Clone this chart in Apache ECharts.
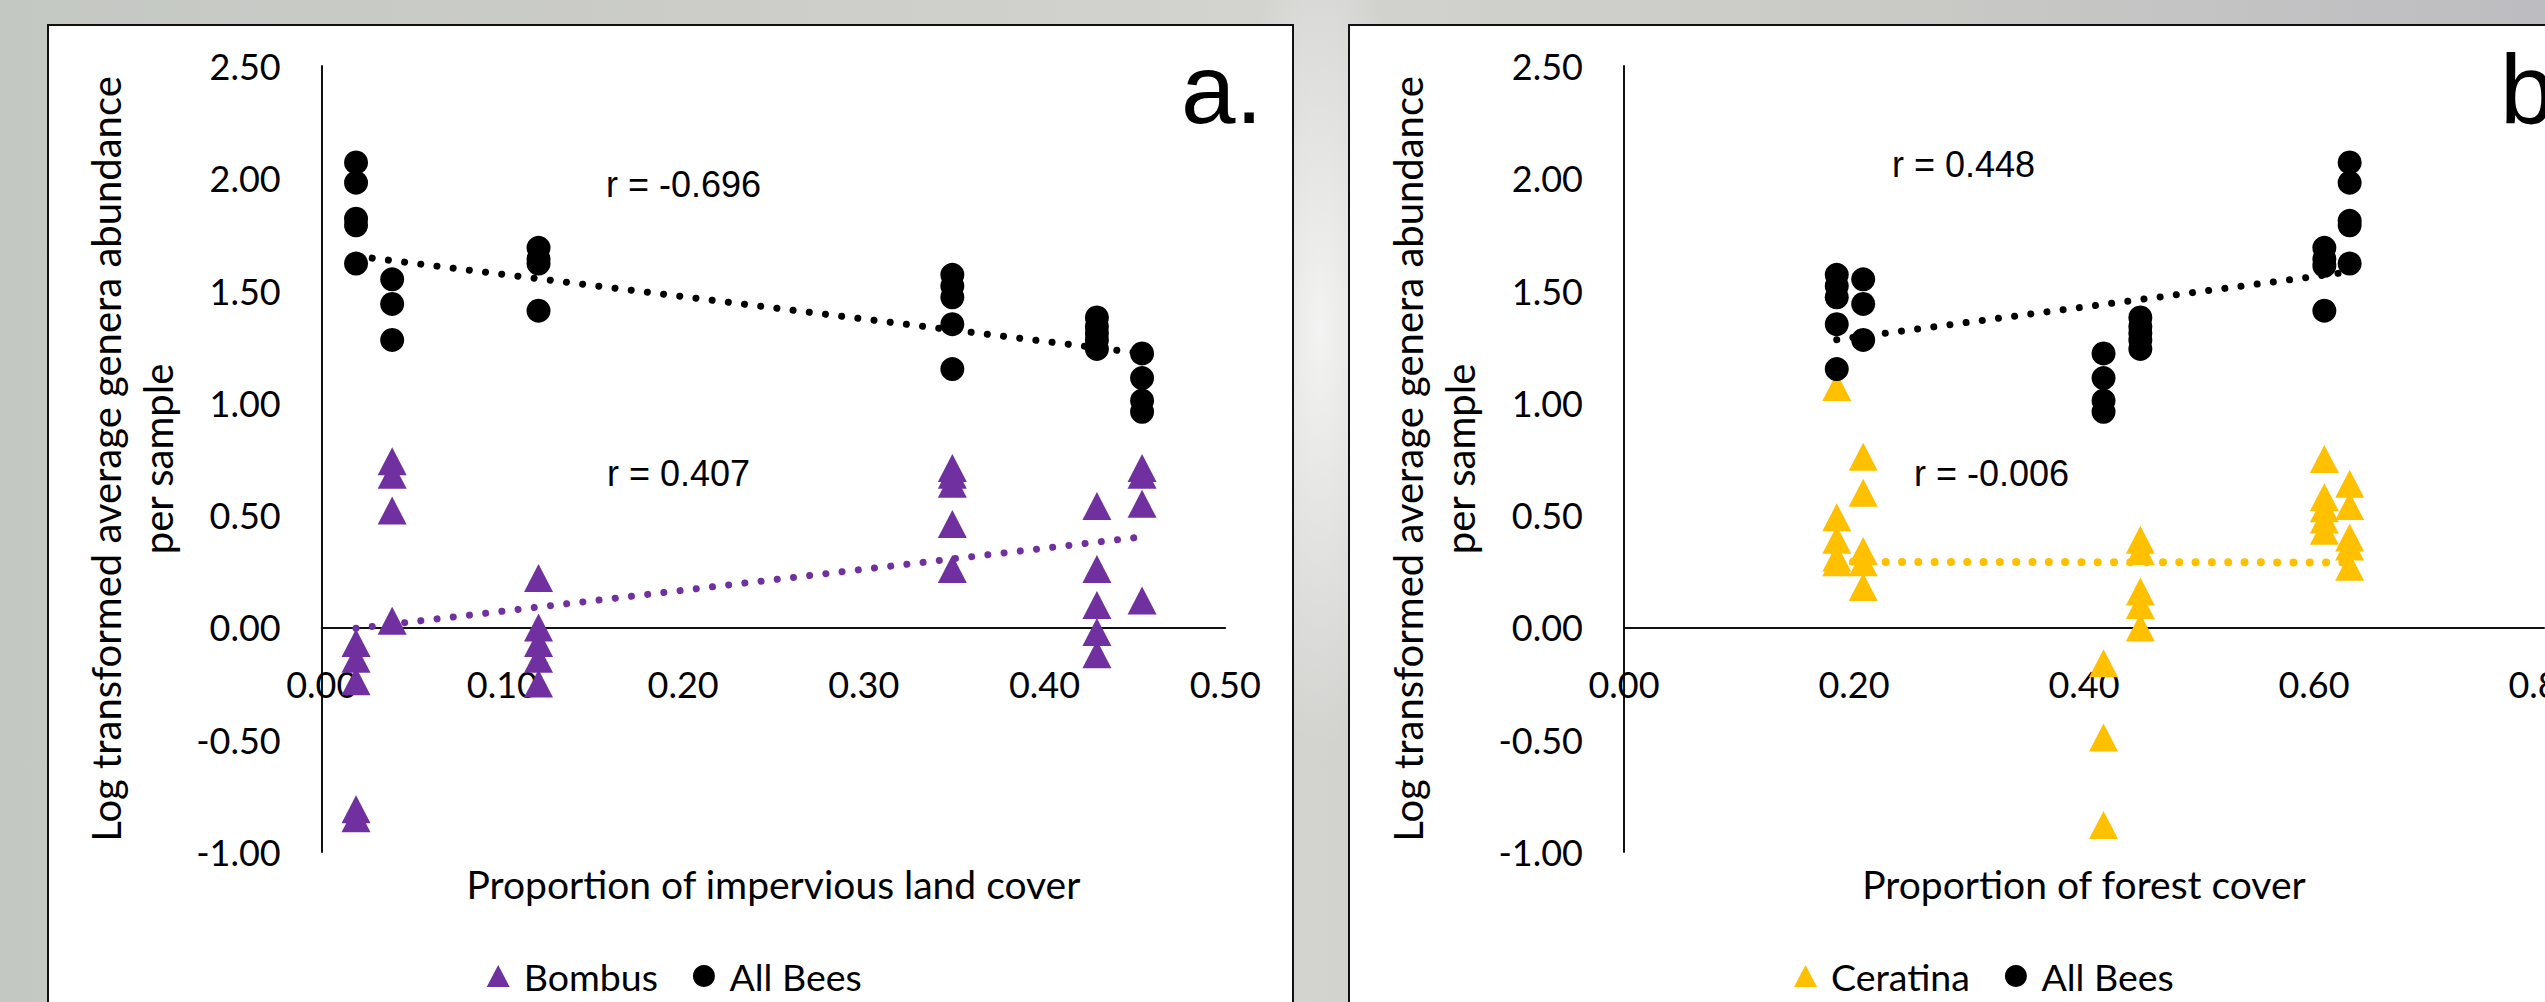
<!DOCTYPE html>
<html>
<head>
<meta charset="utf-8">
<script src="https://cdn.jsdelivr.net/npm/echarts@6/dist/echarts.min.js"></script>
<style>
  html, body { margin: 0; padding: 0; }
  body {
    width: 2545px; height: 1002px; overflow: hidden; position: relative;
    background:
      radial-gradient(ellipse 90px 420px at 1320px 330px, rgba(245,245,245,0.95), rgba(235,235,235,0) 100%),
      linear-gradient(90deg, #c4c8c3 0%, #cbccc8 25%, #d3d3d0 50%, #c9c9c6 75%, #bdbdc1 100%);
  }
  .frame { position: absolute; background: #fff; border: 2px solid #111; box-sizing: border-box; }
  #chart { position: absolute; left: 0; top: 0; width: 2545px; height: 1002px; }
</style>
</head>
<body>
<div class="frame" style="left:47px; top:24px; width:1247px; height:1000px;"></div>
<div class="frame" style="left:1348px; top:24px; width:1250px; height:1000px;"></div>
<div id="chart"></div>
<script>
// ---------- Data ----------
// Panel a: proportion of impervious land cover
const allBeesA = [
  [0.019, 2.07], [0.019, 1.98], [0.019, 1.82], [0.019, 1.79], [0.019, 1.62],
  [0.039, 1.55], [0.039, 1.44], [0.039, 1.28],
  [0.120, 1.69], [0.120, 1.64], [0.120, 1.62], [0.120, 1.41],
  [0.349, 1.57], [0.349, 1.52], [0.349, 1.47], [0.349, 1.35], [0.349, 1.15],
  [0.429, 1.38], [0.429, 1.34], [0.429, 1.31], [0.429, 1.28], [0.429, 1.24],
  [0.454, 1.22], [0.454, 1.11], [0.454, 1.01], [0.454, 0.96]
];
const bombusA = [
  [0.019, -0.07], [0.019, -0.14], [0.019, -0.24], [0.019, -0.81], [0.019, -0.85],
  [0.039, 0.74], [0.039, 0.68], [0.039, 0.52], [0.039, 0.03],
  [0.120, 0.22], [0.120, 0.00], [0.120, -0.07], [0.120, -0.14], [0.120, -0.25],
  [0.349, 0.71], [0.349, 0.68], [0.349, 0.64], [0.349, 0.46], [0.349, 0.26],
  [0.429, 0.54], [0.429, 0.26], [0.429, 0.10], [0.429, -0.02], [0.429, -0.12],
  [0.454, 0.71], [0.454, 0.68], [0.454, 0.55], [0.454, 0.12]
];
const trendAllBeesA = [[0.019, 1.653], [0.454, 1.220]];
const trendBombusA  = [[0.019, -0.004], [0.454, 0.403]];

// Panel b: proportion of forest cover
const allBeesB = [
  [0.185, 1.57], [0.185, 1.52], [0.185, 1.47], [0.185, 1.35], [0.185, 1.15],
  [0.208, 1.55], [0.208, 1.44], [0.208, 1.28],
  [0.417, 1.22], [0.417, 1.11], [0.417, 1.01], [0.417, 0.96],
  [0.449, 1.38], [0.449, 1.34], [0.449, 1.31], [0.449, 1.28], [0.449, 1.24],
  [0.609, 1.69], [0.609, 1.64], [0.609, 1.61], [0.609, 1.41],
  [0.631, 2.07], [0.631, 1.98], [0.631, 1.81], [0.631, 1.79], [0.631, 1.62]
];
const ceratinaB = [
  [0.185, 1.07], [0.185, 0.49], [0.185, 0.39], [0.185, 0.31], [0.185, 0.29],
  [0.208, 0.76], [0.208, 0.60], [0.208, 0.34], [0.208, 0.29], [0.208, 0.18],
  [0.417, -0.16], [0.417, -0.49], [0.417, -0.88],
  [0.449, 0.39], [0.449, 0.34], [0.449, 0.16], [0.449, 0.10], [0.449, 0.00],
  [0.609, 0.75], [0.609, 0.58], [0.609, 0.53], [0.609, 0.48], [0.609, 0.43],
  [0.631, 0.64], [0.631, 0.54], [0.631, 0.40], [0.631, 0.36], [0.631, 0.27]
];
const trendAllBeesB  = [[0.185, 1.281], [0.631, 1.583]];
const trendCeratinaB = [[0.185, 0.292], [0.631, 0.289]];

// Axis ranges / labels
const yRange = { min: -1, max: 2.5, interval: 0.5 };
const xRangeA = { min: 0, max: 0.5, interval: 0.1 };
const xRangeB = { min: 0, max: 0.8, interval: 0.2 };
const yTitle = 'Log transformed average genera abundance\nper sample';
const xTitleA = 'Proportion of impervious land cover';
const xTitleB = 'Proportion of forest cover';
const rLabels = [
  { text: 'r = -0.696', x: 606, y: 186 },
  { text: 'r = 0.407', x: 607, y: 475 },
  { text: 'r = 0.448', x: 1892, y: 166 },
  { text: 'r = -0.006', x: 1914, y: 475 }
];
const panelLetters = [ { text: 'a.', x: 1181, y: 95 }, { text: 'b', x: 2500, y: 95 } ];

// ---------- Styles ----------
const CAL = 'Lato, "Open Sans", sans-serif';
const ARIAL = '"Liberation Sans", Arial, sans-serif';
const PURPLE = '#7030A0', YELLOW = '#FFC000', BLACK = '#000000';
const fmt = v => v.toFixed(2);

function xAxis(grid, range, title) {
  return {
    gridIndex: grid, type: 'value', min: range.min, max: range.max, interval: range.interval,
    axisLine: { show: true, onZero: true, lineStyle: { color: '#111', width: 2 } },
    axisTick: { show: false }, splitLine: { show: false },
    axisLabel: { formatter: fmt, fontFamily: CAL, fontSize: 36, color: '#000', margin: -186 },
    name: title, nameLocation: 'middle', nameGap: 12,
    nameTextStyle: { fontFamily: CAL, fontSize: 39, color: '#000', lineHeight: 40 }
  };
}
function yAxis(grid) {
  return {
    gridIndex: grid, type: 'value', min: yRange.min, max: yRange.max, interval: yRange.interval,
    axisLine: { show: true, lineStyle: { color: '#111', width: 2 } },
    axisTick: { show: false }, splitLine: { show: false },
    axisLabel: { formatter: fmt, fontFamily: CAL, fontSize: 36, color: '#000', margin: 41 },
    name: yTitle, nameLocation: 'middle', nameGap: 138, nameRotate: 90,
    nameTextStyle: { fontFamily: CAL, fontSize: 40, color: '#000', lineHeight: 52 }
  };
}
function scatter(name, data, idx, symbol, color) {
  return {
    name: name, type: 'scatter', xAxisIndex: idx, yAxisIndex: idx, data: data,
    symbol: symbol, symbolSize: symbol === 'circle' ? 24 : [29, 28],
    itemStyle: { color: color, opacity: 1 }, emphasis: { disabled: true }, silent: true
  };
}
function trend(data, idx, color, width) {
  return {
    type: 'line', xAxisIndex: idx, yAxisIndex: idx, data: data, symbol: 'none', silent: true, z: 5,
    lineStyle: { color: color, width: width, type: [0.01, 16.3], cap: 'round' }
  };
}
function legend(left, first) {
  return {
    left: left, top: 957, padding: 0, itemWidth: 23, itemHeight: 22, itemGap: 35,
    selectedMode: false,
    data: [ { name: first, icon: 'triangle' }, { name: 'All Bees', icon: 'circle' } ],
    textStyle: { fontFamily: CAL, fontSize: 37.5, color: '#000', padding: [0, 0, 0, 9] }
  };
}

const graphics = [];
rLabels.forEach(r => graphics.push({
  type: 'text', left: r.x, top: r.y - 20, z: 100,
  style: { text: r.text, font: '36px ' + ARIAL, fill: '#000' }
}));
panelLetters.forEach(p => graphics.push({
  type: 'text', left: p.x, top: p.y - 55, z: 100,
  style: { text: p.text, font: '98px ' + ARIAL, fill: '#000' }
}));

const chart = echarts.init(document.getElementById('chart'), null, { renderer: 'svg' });
chart.setOption({
  animation: false,
  backgroundColor: 'transparent',
  grid: [
    { left: 321.7, top: 65.9, width: 903.5, height: 786.1, containLabel: false, outerBoundsMode: 'none' },
    { left: 1624, top: 65.9, width: 920, height: 786.1, containLabel: false, outerBoundsMode: 'none' }
  ],
  xAxis: [ xAxis(0, xRangeA, xTitleA), xAxis(1, xRangeB, xTitleB) ],
  yAxis: [ yAxis(0), yAxis(1) ],
  legend: [ legend(486.7, 'Bombus'), legend(1794, 'Ceratina') ],
  graphic: graphics,
  series: [
    scatter('Bombus', bombusA, 0, 'triangle', PURPLE),
    scatter('All Bees', allBeesA, 0, 'circle', BLACK),
    trend(trendAllBeesA, 0, BLACK, 7),
    trend(trendBombusA, 0, PURPLE, 7),
    scatter('Ceratina', ceratinaB, 1, 'triangle', YELLOW),
    scatter('All Bees', allBeesB, 1, 'circle', BLACK),
    trend(trendAllBeesB, 1, BLACK, 7),
    trend(trendCeratinaB, 1, YELLOW, 8)
  ]
});
</script>
</body>
</html>
